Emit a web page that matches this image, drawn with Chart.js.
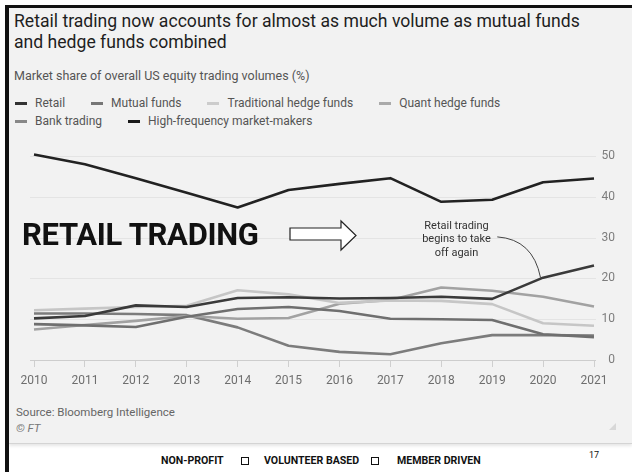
<!DOCTYPE html>
<html>
<head>
<meta charset="utf-8">
<script src="https://cdn.jsdelivr.net/npm/chart.js@4.4.1/dist/chart.umd.min.js"></script>
<style>
  html, body { margin: 0; padding: 0; background: #fff; }
  #page { position: relative; width: 632px; height: 472px; overflow: hidden; font-family: Roboto, sans-serif; background: #fff; }
  #leftbar { position: absolute; left: 5px; top: 5px; width: 4px; height: 467px; background: #111; }
  #topbar { position: absolute; left: 5px; top: 5px; width: 627px; height: 3px; background: #111; }
  #panel { position: absolute; left: 9px; top: 8px; width: 623px; height: 435px; background: #f2f2f2;
           border-bottom: 1px solid #d4d4d4; box-shadow: 0 2px 3px rgba(0,0,0,0.10); }
  .abs { position: absolute; white-space: nowrap; }
  #title { left: 14px; top: 11px; font-size: 17.6px; line-height: 21px; color: #1e1e1e; }
  #subtitle { left: 14px; top: 68px; font-size: 12.5px; line-height: 16px; color: #555; }
  .legrow { position: absolute; left: 15px; height: 18px; display: flex; align-items: center; font-size: 12px; color: #555; }
  .legitem { display: flex; align-items: center; margin-right: 26px; }
  .legitem i { display: inline-block; width: 12px; height: 3px; margin-right: 8px; }
  #chartbox { position: absolute; left: 0; top: 130px; width: 632px; height: 270px; }
  #big { left: 22px; top: 219px; font-size: 31px; line-height: 31px; font-weight: 700; color: #111; letter-spacing: -0.3px; }
  #source { left: 16px; top: 404px; font-size: 11.5px; line-height: 16px; color: #666; }
  #ft { left: 16px; top: 420px; font-size: 11.5px; line-height: 16px; color: #777; font-style: italic; }
  #grip { left: 609px; top: 423px; width: 0; height: 0; border-left: 7px solid transparent; border-bottom: 7px solid #d8d8d8; }
  .foot { top: 455px; font-size: 10.6px; line-height: 12px; font-weight: 700; color: #111; }
  .box { position: absolute; top: 457px; width: 8px; height: 8px; border: 1px solid #111; box-sizing: border-box; }
  #pagenum { left: 589px; top: 450px; font-size: 9px; line-height: 11px; color: #111; }
</style>
</head>
<body>
<div id="page">
  <div id="panel"></div>
  <div id="leftbar"></div>
  <div id="topbar"></div>

  <div id="title" class="abs">Retail trading now accounts for almost as much volume as mutual funds<br>and hedge funds combined</div>
  <div id="subtitle" class="abs">Market share of overall US equity trading volumes (%)</div>
  <div id="leg1" class="legrow" style="top:94px"></div>
  <div id="leg2" class="legrow" style="top:112px"></div>

  <div id="chartbox"><canvas id="chart" width="632" height="270"></canvas></div>

  <div id="big" class="abs">RETAIL TRADING</div>
  <svg class="abs" style="left:289px;top:219px" width="70" height="34">
    <polygon points="1,9 52,9 52,2 67,16.5 52,31 52,21 1,21" fill="#fff" stroke="#222" stroke-width="1.2"/>
  </svg>

  <div id="source" class="abs">Source: Bloomberg Intelligence</div>
  <div id="ft" class="abs">© FT</div>
  <div id="grip" class="abs"></div>

  <div class="abs foot" style="left:161px">NON-PROFIT</div>
  <div class="box" style="left:241px"></div>
  <div class="abs foot" style="left:264px">VOLUNTEER BASED</div>
  <div class="box" style="left:371px"></div>
  <div class="abs foot" style="left:397px">MEMBER DRIVEN</div>
  <div id="pagenum" class="abs">17</div>
</div>

<script>
// data
const years = ['2010', '2011', '2012', '2013', '2014', '2015', '2016', '2017', '2018', '2019', '2020', '2021'];
const retail = [10.2, 10.8, 13.4, 13.0, 15.2, 15.4, 15.1, 15.2, 15.5, 15.0, 20.2, 23.2];
const mutualFunds = [8.8, 8.5, 8.1, 10.6, 12.5, 13.0, 12.0, 10.1, 10.0, 9.8, 6.3, 5.6];
const tradHedgeFunds = [12.2, 12.6, 13.0, 13.3, 17.1, 16.1, 14.0, 14.6, 14.5, 13.7, 9.0, 8.4];
const quantHedgeFunds = [7.5, 8.6, 9.6, 10.8, 10.1, 10.3, 13.8, 14.7, 17.8, 17.0, 15.5, 13.1];
const bankTrading = [11.4, 11.4, 11.3, 11.0, 8.0, 3.5, 2.0, 1.4, 4.1, 6.1, 6.1, 6.0];
const hftMarketMakers = [50.4, 48.0, 44.6, 41.0, 37.4, 41.7, 43.2, 44.6, 38.8, 39.3, 43.6, 44.5];
const yTicks = [0, 10, 20, 30, 40, 50];

const series = [
    {label: 'Retail', data: retail, color: '#3a3a3a', legend: '#333'},
    {label: 'Mutual funds', data: mutualFunds, color: '#6f6f6f', legend: '#777'},
    {label: 'Traditional hedge funds', data: tradHedgeFunds, color: '#c6c6c6', legend: '#ccc'},
    {label: 'Quant hedge funds', data: quantHedgeFunds, color: '#a2a2a2', legend: '#aaa'},
    {label: 'Bank trading', data: bankTrading, color: '#7c7c7c', legend: '#888'},
    {label: 'High-frequency market-makers', data: hftMarketMakers, color: '#222', legend: '#1a1a1a'}
];

//Legend rows (4 + 2 like the original)
series.forEach((s, i) => {
    const row = document.getElementById(i < 4 ? 'leg1' : 'leg2');
    const item = document.createElement('span');
    item.className = 'legitem';
    item.innerHTML = '<i style="background:' + s.legend + '"></i>' + s.label;
    row.appendChild(item);
});

Chart.defaults.font.family = 'Roboto, sans-serif';

// faint horizontal grid lines a bit wider than the plot, darker zero line
const gridLines = {
    id: 'gridLines',
    beforeDatasetsDraw(chart) {
        const y = chart.scales.y;
        const ctx = chart.ctx;
        ctx.save();
        ctx.lineWidth = 1;
        yTicks.forEach((v) => {
            const py = Math.round(y.getPixelForValue(v)) + 0.5;
            ctx.strokeStyle = v === 0 ? '#cdcdcd' : '#e4e4e4';
            ctx.beginPath();
            ctx.moveTo(chart.chartArea.left - 4, py);
            ctx.lineTo(chart.chartArea.right + 2, py);
            ctx.stroke();
        });
        ctx.restore();
    }
};

// "Retail trading begins to take off again" note with its curved pointer
const note = {
    id: 'note',
    afterDatasetsDraw(chart) {
        const x = chart.scales.x, y = chart.scales.y;
        const ctx = chart.ctx;
        ctx.save();
        ctx.fillStyle = '#333';
        ctx.font = '11px Roboto, sans-serif';
        ctx.textAlign = 'center';
        ctx.textBaseline = 'middle';
        const tx = x.getPixelForValue(8.3);
        ctx.fillText('Retail trading', tx, y.getPixelForValue(32.9));
        ctx.fillText('begins to take', tx, y.getPixelForValue(29.5));
        ctx.fillText('off again', tx, y.getPixelForValue(26.1));

        ctx.strokeStyle = '#444';
        ctx.lineWidth = 1;
        ctx.beginPath();
        ctx.moveTo(x.getPixelForValue(9.1), y.getPixelForValue(30.2));
        ctx.quadraticCurveTo(x.getPixelForValue(9.8), y.getPixelForValue(29.6),
            x.getPixelForValue(9.95), y.getPixelForValue(retail[10]));
        ctx.stroke();
        ctx.restore();
    }
};

new Chart(document.getElementById('chart'), {
    type: 'line',
    data: {
        labels: years,
        datasets: series.map((s) => ({
            label: s.label,
            data: s.data,
            borderColor: s.color,
            backgroundColor: s.color,
            borderWidth: 2.6,
            pointRadius: 0,
            tension: 0,
            borderJoinStyle: 'round',
            fill: false
        }))
    },
    options: {
        responsive: false,
        animation: false,
        devicePixelRatio: 1,
        layout: {padding: {left: 34, top: 18, right: 17, bottom: 0}},
        plugins: {legend: {display: false}, tooltip: {enabled: false}},
        scales: {
            x: {
                offset: false,
                grid: {drawOnChartArea: false, drawTicks: true, tickLength: 7, color: '#cfcfcf'},
                border: {display: false},
                ticks: {color: '#6e6e6e', font: {size: 12}, padding: 7, maxRotation: 0, autoSkip: false},
                afterFit(scale) { scale.height = 40; }
            },
            y: {
                position: 'right',
                min: 0,
                max: 52,
                grid: {display: false},
                border: {display: false},
                ticks: {color: '#7d7d7d', font: {size: 12}, padding: 7, crossAlign: 'far'},
                afterBuildTicks(scale) { scale.ticks = yTicks.map((v) => ({value: v})); },
                afterFit(scale) { scale.width = 21; }
            }
        }
    },
    plugins: [gridLines, note]
});
</script>
</body>
</html>
